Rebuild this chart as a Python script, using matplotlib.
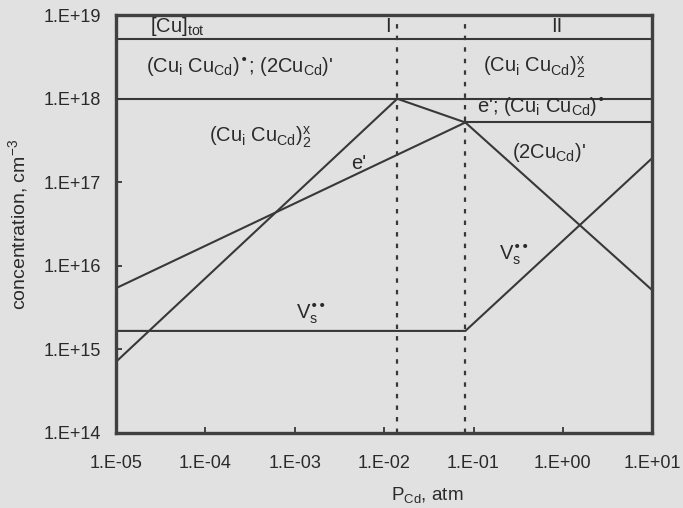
import matplotlib
matplotlib.use('Agg')
from matplotlib import pyplot as plt
from matplotlib.ticker import FixedLocator, NullLocator

plt.rcParams['font.family'] = ['Liberation Sans', 'DejaVu Sans']
plt.rcParams['mathtext.default'] = 'regular'

BG = '#e1e1e1'  # 扫描纸的底色
INK = '#383838'
TXT = '#2a2a2a'

# 区域边界 (P_Cd, atm)
P_MIN = 1e-5
P_MAX = 10
P_PEAK = 0.014
P_BOUND = 0.081

# 各条缺陷浓度线 (P_Cd, 浓度 cm^-3)
cu_tot_p = [P_MIN, P_MAX]
cu_tot_c = [5.2e18, 5.2e18]

complex_p = [P_MIN, P_MAX]
complex_c = [1.0e18, 1.0e18]

complex2_p = [P_MIN, P_PEAK]
complex2_c = [7.1e14, 1.0e18]

e_left_p = [P_MIN, P_BOUND]
e_left_c = [5.4e15, 5.2e17]

e_right_p = [P_BOUND, P_MAX]
e_right_c = [5.2e17, 5.2e17]

cucd_p = [P_PEAK, P_BOUND, P_MAX]
cucd_c = [1.0e18, 5.2e17, 5.1e15]

vs_p = [P_MIN, P_BOUND, P_MAX]
vs_c = [1.66e15, 1.66e15, 1.95e17]

x_ticks = [1e-5, 1e-4, 1e-3, 1e-2, 1e-1, 1e0, 1e1]
x_labels = ['1.E-05', '1.E-04', '1.E-03', '1.E-02', '1.E-01', '1.E+00', '1.E+01']
y_ticks = [1e14, 1e15, 1e16, 1e17, 1e18, 1e19]
y_labels = ['1.E+14', '1.E+15', '1.E+16', '1.E+17', '1.E+18', '1.E+19']

# 标注文字: (文字, x, y)  轴坐标
notes = [
    (r'[Cu]$_{tot}$', 0.063, 0.974),
    ('I', 0.502, 0.972),
    ('II', 0.811, 0.972),
    (r"(Cu$_{i}$ Cu$_{Cd}$)$^{•}$; (2Cu$_{Cd}$)'", 0.056, 0.876),
    (r'(Cu$_{i}$ Cu$_{Cd}$)$^{x}_{2}$', 0.685, 0.876),
    (r"e'; (Cu$_{i}$ Cu$_{Cd}$)$^{•}$", 0.673, 0.780),
    (r'(Cu$_{i}$ Cu$_{Cd}$)$^{x}_{2}$', 0.174, 0.708),
    (r"(2Cu$_{Cd}$)'", 0.739, 0.672),
    ("e'", 0.438, 0.646),
    (r'V$_{s}^{••}$', 0.336, 0.286),
    (r'V$_{s}^{••}$', 0.714, 0.427),
]


def draw_chart():
    fig = plt.figure(figsize=(6.83, 5.08), dpi=100, facecolor=BG)
    ax = fig.add_axes([0.170, 0.148, 0.785, 0.822])
    ax.set_facecolor(BG)
    ax.set_xscale('log')
    ax.set_yscale('log')
    ax.set_xlim(P_MIN, P_MAX)
    ax.set_ylim(1e14, 1e19)

    lines = [(cu_tot_p, cu_tot_c), (complex_p, complex_c), (complex2_p, complex2_c),
             (e_left_p, e_left_c), (e_right_p, e_right_c), (cucd_p, cucd_c), (vs_p, vs_c)]
    for p, c in lines:
        ax.plot(p, c, color=INK, lw=1.5, solid_capstyle='butt')

    for p in (P_PEAK, P_BOUND):
        ax.axvline(p, color=INK, lw=1.6, linestyle=(0, (2.0, 3.2)))

    for s in ax.spines.values():
        s.set_linewidth(2.4)
        s.set_color('#404040')

    ax.xaxis.set_major_locator(FixedLocator(x_ticks))
    ax.xaxis.set_minor_locator(NullLocator())
    ax.set_xticklabels(x_labels)
    ax.yaxis.set_major_locator(FixedLocator(y_ticks))
    ax.yaxis.set_minor_locator(NullLocator())
    ax.set_yticklabels(y_labels)
    ax.tick_params(axis='x', direction='in', length=4, width=1.3, color=INK,
                   labelsize=13, labelcolor=TXT, pad=16)
    ax.tick_params(axis='y', direction='in', length=4, width=1.3, color=INK,
                   labelsize=13, labelcolor=TXT, pad=11)

    ax.set_xlabel(r'P$_{Cd}$, atm', fontsize=13.5, color=TXT)
    ax.xaxis.set_label_coords(0.58, -0.125)
    ax.set_ylabel(r'concentration, cm$^{-3}$', fontsize=14, color=TXT)
    ax.yaxis.set_label_coords(-0.16, 0.5)

    for txt, x, y in notes:
        ax.text(x, y, txt, transform=ax.transAxes, fontsize=14.5, color=TXT,
                ha='left', va='center')

    fig.savefig('out.png', dpi=100, facecolor=BG)


if __name__ == '__main__':
    draw_chart()
